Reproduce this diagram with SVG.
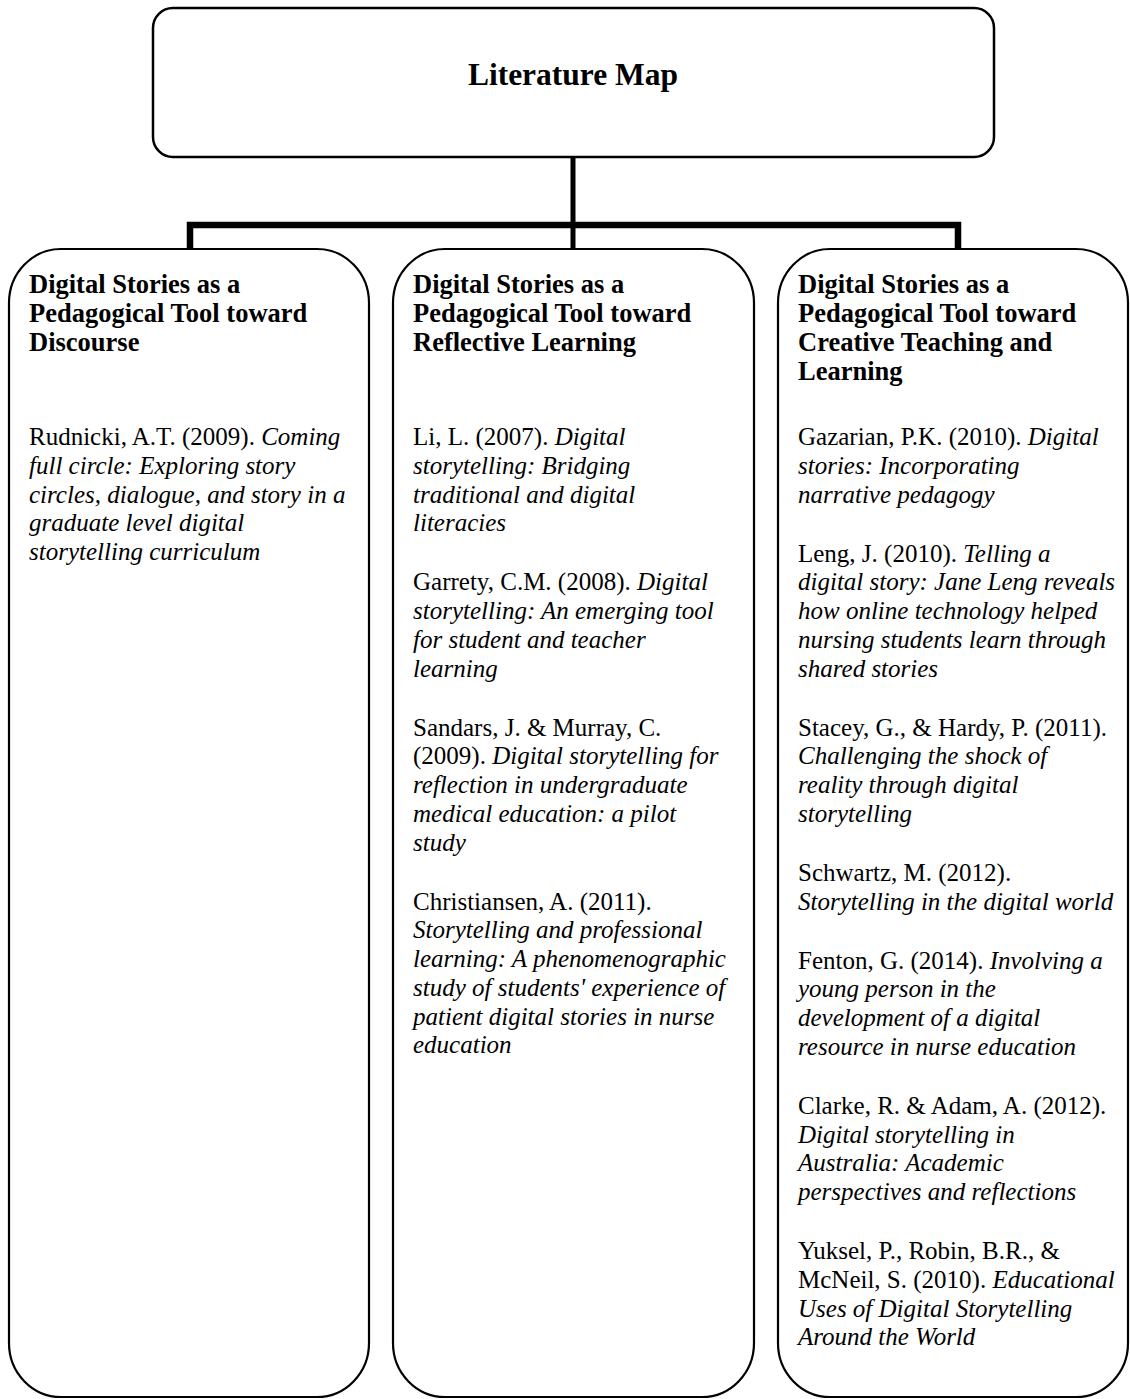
<svg xmlns="http://www.w3.org/2000/svg" width="1130" height="1399" viewBox="0 0 1130 1399">
<style>
.box{fill:#fff;stroke:#000;stroke-width:2.2}
.title{font-family:"Liberation Serif","Times New Roman",serif;font-weight:bold;font-size:31.5px;fill:#000}
.hd{font-family:"Liberation Serif","Times New Roman",serif;font-weight:bold;font-size:26.5px;fill:#000}
.bd{font-family:"Liberation Serif","Times New Roman",serif;font-size:25px;fill:#000}
.i{font-style:italic}
.con{fill:none;stroke:#000;stroke-linejoin:miter;stroke-linecap:butt}
</style>
<rect width="1130" height="1399" fill="#fff"/>
<g id="connectors">
<path class="con" stroke-width="5" d="M573,157 V249"/>
<path class="con" stroke-width="6.5" d="M190,249 V225 H958 V249"/>
</g>
<g id="node-title">
<rect class="box" x="153" y="8" width="841" height="149" rx="20" ry="20" style="stroke-width:2.5"/>
<text class="title" x="573" y="85" text-anchor="middle">Literature Map</text>
</g>
<g id="node-discourse">
<rect class="box" x="9" y="249" width="360" height="1148" rx="52" ry="54"/>
<text class="hd"><tspan x="29" y="293">Digital Stories as a</tspan><tspan x="29" y="322">Pedagogical Tool toward</tspan><tspan x="29" y="351">Discourse</tspan></text>
<text class="bd"><tspan x="29" y="445">Rudnicki, A.T. (2009). <tspan class="i">Coming</tspan></tspan><tspan class="i" x="29" y="473.75">full circle: Exploring story</tspan><tspan class="i" x="29" y="502.5">circles, dialogue, and story in a</tspan><tspan class="i" x="29" y="531.25">graduate level digital</tspan><tspan class="i" x="29" y="560">storytelling curriculum</tspan></text>
</g>
<g id="node-reflective">
<rect class="box" x="393" y="249" width="361" height="1148" rx="52" ry="54"/>
<text class="hd"><tspan x="413" y="293">Digital Stories as a</tspan><tspan x="413" y="322">Pedagogical Tool toward</tspan><tspan x="413" y="351">Reflective Learning</tspan></text>
<text class="bd"><tspan x="413" y="445">Li, L. (2007). <tspan class="i">Digital</tspan></tspan><tspan class="i" x="413" y="473.75">storytelling: Bridging</tspan><tspan class="i" x="413" y="502.5">traditional and digital</tspan><tspan class="i" x="413" y="531.25">literacies</tspan></text>
<text class="bd"><tspan x="413" y="590.25">Garrety, C.M. (2008). <tspan class="i">Digital</tspan></tspan><tspan class="i" x="413" y="619">storytelling: An emerging tool</tspan><tspan class="i" x="413" y="647.75">for student and teacher</tspan><tspan class="i" x="413" y="676.5">learning</tspan></text>
<text class="bd"><tspan x="413" y="735.5">Sandars, J. &amp; Murray, C.</tspan><tspan x="413" y="764.25">(2009). <tspan class="i">Digital storytelling for</tspan></tspan><tspan class="i" x="413" y="793">reflection in undergraduate</tspan><tspan class="i" x="413" y="821.75">medical education: a pilot</tspan><tspan class="i" x="413" y="850.5">study</tspan></text>
<text class="bd"><tspan x="413" y="909.5">Christiansen, A. (2011).</tspan><tspan class="i" x="413" y="938.25">Storytelling and professional</tspan><tspan class="i" x="413" y="967">learning: A phenomenographic</tspan><tspan class="i" x="413" y="995.75">study of students' experience of</tspan><tspan class="i" x="413" y="1024.5">patient digital stories in nurse</tspan><tspan class="i" x="413" y="1053.25">education</tspan></text>
</g>
<g id="node-creative">
<rect class="box" x="778" y="249" width="350" height="1148" rx="52" ry="54"/>
<text class="hd"><tspan x="798" y="293">Digital Stories as a</tspan><tspan x="798" y="322">Pedagogical Tool toward</tspan><tspan x="798" y="351">Creative Teaching and</tspan><tspan x="798" y="380">Learning</tspan></text>
<text class="bd"><tspan x="798" y="445">Gazarian, P.K. (2010). <tspan class="i">Digital</tspan></tspan><tspan class="i" x="798" y="473.75">stories: Incorporating</tspan><tspan class="i" x="798" y="502.5">narrative pedagogy</tspan></text>
<text class="bd"><tspan x="798" y="561.5">Leng, J. (2010). <tspan class="i">Telling a</tspan></tspan><tspan class="i" x="798" y="590.25">digital story: Jane Leng reveals</tspan><tspan class="i" x="798" y="619">how online technology helped</tspan><tspan class="i" x="798" y="647.75">nursing students learn through</tspan><tspan class="i" x="798" y="676.5">shared stories</tspan></text>
<text class="bd"><tspan x="798" y="735.5">Stacey, G., &amp; Hardy, P. (2011).</tspan><tspan class="i" x="798" y="764.25">Challenging the shock of</tspan><tspan class="i" x="798" y="793">reality through digital</tspan><tspan class="i" x="798" y="821.75">storytelling</tspan></text>
<text class="bd"><tspan x="798" y="880.75">Schwartz, M. (2012).</tspan><tspan class="i" x="798" y="909.5">Storytelling in the digital world</tspan></text>
<text class="bd"><tspan x="798" y="968.5">Fenton, G. (2014). <tspan class="i">Involving a</tspan></tspan><tspan class="i" x="798" y="997.25">young person in the</tspan><tspan class="i" x="798" y="1026">development of a digital</tspan><tspan class="i" x="798" y="1054.75">resource in nurse education</tspan></text>
<text class="bd"><tspan x="798" y="1113.75">Clarke, R. &amp; Adam, A. (2012).</tspan><tspan class="i" x="798" y="1142.5">Digital storytelling in</tspan><tspan class="i" x="798" y="1171.25">Australia: Academic</tspan><tspan class="i" x="798" y="1200">perspectives and reflections</tspan></text>
<text class="bd"><tspan x="798" y="1259">Yuksel, P., Robin, B.R., &amp;</tspan><tspan x="798" y="1287.75">McNeil, S. (2010). <tspan class="i">Educational</tspan></tspan><tspan class="i" x="798" y="1316.5">Uses of Digital Storytelling</tspan><tspan class="i" x="798" y="1345.25">Around the World</tspan></text>
</g>
</svg>
